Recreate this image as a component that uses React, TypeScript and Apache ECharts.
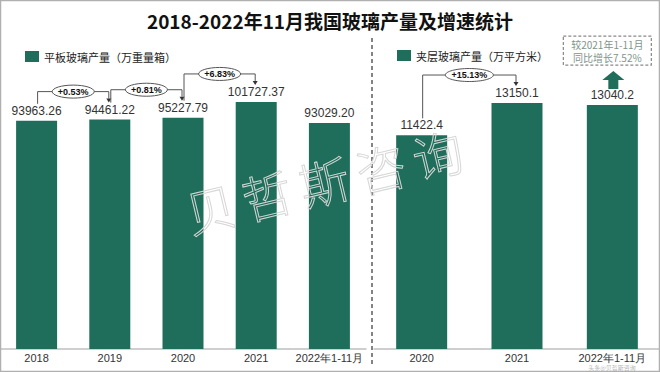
import React, { useEffect, useRef } from "react";
import * as echarts from "echarts";

const titleText = "2018-2022年11月我国玻璃产量及增速统计";
const flatName = "平板玻璃产量（万重量箱）";
const flatCategories = ["2018", "2019", "2020", "2021", "2022年1-11月"];
const flatValues = [93963.26, 94461.22, 95227.79, 101727.37, 93029.2];
const flatGrowth = ["+0.53%", "+0.81%", "+6.83%"];
const lamName = "夹层玻璃产量（万平方米）";
const lamCategories = ["2020", "2021", "2022年1-11月"];
const lamValues = [11422.4, 13150.1, 13040.2];
const lamGrowth = ["+15.13%"];
const lamNote = ["较2021年1-11月", "同比增长7.52%"];
const watermarkChars = ["贝", "哲", "斯", "咨", "询"];
const footMark = "头条@贝哲斯咨询";

const GREEN = "#1f6e5b";

export default function App() {
  const ref = useRef<HTMLDivElement>(null);
  useEffect(() => {
    document.body.style.margin = "0";
    const chart = echarts.init(ref.current!, undefined, { renderer: "svg" });
    const axisCommon = {
      type: "category" as const,
      axisLine: { lineStyle: { color: "#bfbfbf", width: 1.5 } },
      axisTick: { show: false },
      axisLabel: { color: "#333", fontSize: 11, fontFamily: "Liberation Sans", margin: 3, interval: 0, lineHeight: 12 },
    };
    chart.setOption({
      animation: false,
      backgroundColor: "#fff",
      title: {
        text: titleText,
        left: "center",
        top: 6,
        textStyle: { fontSize: 19, fontWeight: "bold", color: "#111", fontFamily: "Noto Sans CJK SC" },
      },
      legend: [
        {
          data: [flatName],
          left: 20,
          top: 46,
          itemWidth: 14,
          itemHeight: 11,
          itemGap: 4,
          selectedMode: false,
          icon: "rect",
          textStyle: { fontSize: 11, color: "#222", fontFamily: "Noto Sans CJK SC" },
        },
        {
          data: [lamName],
          left: 392,
          top: 45,
          itemWidth: 14,
          itemHeight: 11,
          selectedMode: false,
          icon: "rect",
          textStyle: { fontSize: 11, color: "#222", fontFamily: "Noto Sans CJK SC" },
        },
      ],
      grid: [
        { left: 0, width: 366, top: 60, bottom: 23 },
        { left: 374, width: 286, top: 60, bottom: 23 },
      ],
      xAxis: [
        { ...axisCommon, gridIndex: 0, data: flatCategories },
        { ...axisCommon, gridIndex: 1, data: lamCategories },
      ],
      yAxis: [
        { type: "value", gridIndex: 0, min: 0, max: 119000, show: false, splitLine: { show: false } },
        { type: "value", gridIndex: 1, min: 0, max: 15450, show: false, splitLine: { show: false } },
      ],
      series: [
        {
          name: flatName,
          type: "bar",
          xAxisIndex: 0,
          yAxisIndex: 0,
          data: flatValues,
          barWidth: 41,
          itemStyle: { color: GREEN },
          label: {
            show: true,
            position: "top",
            distance: 4,
            color: "#333",
            fontSize: 12,
            fontFamily: "Liberation Sans",
            formatter: (p: any) => Number(p.value).toFixed(2),
          },
        },
        {
          name: lamName,
          type: "bar",
          xAxisIndex: 1,
          yAxisIndex: 1,
          data: lamValues,
          barWidth: 51,
          itemStyle: { color: GREEN },
          label: {
            show: true,
            position: "top",
            distance: 4,
            color: "#333",
            fontSize: 12,
            fontFamily: "Liberation Sans",
            formatter: (p: any) => Number(p.value).toFixed(1),
          },
        },
      ],
    });

    const px = (s: number, i: number, v: number) =>
      chart.convertToPixel({ seriesIndex: s }, [i, v]) as number[];

    const graphics: any[] = [];
    const bracket = (s: number, values: number[], i: number, text: string, rx: number) => {
      const a = px(s, i, values[i]);
      const b = px(s, i + 1, values[i + 1]);
      const x1 = a[0] + 1;
      const x2 = b[0] - 1;
      const y1 = a[1] - 17;
      const y2 = b[1] - 17;
      const h = Math.min(a[1], b[1]) - 28;
      graphics.push({
        type: "polyline",
        z: 10,
        shape: { points: [[x1, y1], [x1, h], [x2, h], [x2, y2 - 4]] },
        style: { stroke: "#555", lineWidth: 1, fill: "none" },
      });
      graphics.push({
        type: "polygon",
        z: 10,
        shape: { points: [[x2 - 2.5, y2 - 4], [x2 + 2.5, y2 - 4], [x2, y2]] },
        style: { fill: "#333" },
      });
      const cx = (x1 + x2) / 2;
      graphics.push({
        type: "ellipse",
        z: 11,
        shape: { cx, cy: h, rx, ry: 6.5 },
        style: { fill: "#fff", stroke: "#555", lineWidth: 1 },
      });
      graphics.push({
        type: "text",
        z: 12,
        x: cx,
        y: h,
        style: {
          text,
          align: "center",
          verticalAlign: "middle",
          font: "bold 9px Liberation Sans",
          fill: "#111",
        },
      });
    };
    flatGrowth.forEach((t, i) => bracket(0, flatValues, i, t, 21));
    lamGrowth.forEach((t, i) => bracket(1, lamValues, i, t, 24));

    // up arrow and note box above the last laminated bar
    const last = lamValues.length - 1;
    const p = px(1, last, lamValues[last]);
    const c = p[0] + 1;
    const yb = p[1] - 16;
    const yt = p[1] - 34;
    graphics.push({
      type: "polygon",
      z: 10,
      shape: {
        points: [
          [c - 5, yb],
          [c + 5, yb],
          [c + 5, yt + 9],
          [c + 11, yt + 9],
          [c, yt],
          [c - 11, yt + 9],
          [c - 5, yt + 9],
        ],
      },
      style: { fill: GREEN },
    });
    const bx = c - 50;
    const by = p[1] - 69;
    graphics.push({
      type: "rect",
      z: 10,
      shape: { x: bx, y: by, width: 88, height: 29 },
      style: { fill: "#fff", stroke: "#888", lineWidth: 1.2, lineDash: [3, 2] },
    });
    lamNote.forEach((t, i) => {
      graphics.push({
        type: "text",
        z: 11,
        x: bx + 44,
        y: by + 8 + i * 13.5,
        style: {
          text: t,
          align: "center",
          verticalAlign: "middle",
          font: "10px Noto Sans CJK SC",
          lineHeight: 11,
          fill: "#7f948b",
        },
      });
    });

    // separator
    graphics.push({
      type: "line",
      z: 5,
      shape: { x1: 372, y1: 38, x2: 372, y2: 366 },
      style: { stroke: "#333", lineWidth: 1.2, lineDash: [4, 3] },
    });

    // watermark
    const ang = (13.4 * Math.PI) / 180;
    watermarkChars.forEach((ch, i) => {
      graphics.push({
        type: "text",
        z: 20,
        x: 210 + i * 56.8,
        y: 207 - i * 13.5,
        rotation: ang,
        style: {
          text: ch,
          align: "center",
          verticalAlign: "middle",
          font: "300 50px Noto Sans CJK SC",
          fill: "rgba(0,0,0,0)",
          stroke: "#d6d6d6",
          lineWidth: 1,
        },
      });
    });
    graphics.push({
      type: "text",
      z: 20,
      x: 612,
      y: 367.5,
      style: {
        text: footMark,
        align: "center",
        verticalAlign: "middle",
        font: "6px Noto Sans CJK SC",
        lineHeight: 6,
        fill: "rgba(120,120,120,0.55)",
      },
    });

    // outer frame
    graphics.push({
      type: "rect",
      z: 30,
      shape: { x: 0.5, y: 0.5, width: 659, height: 371 },
      style: { fill: "none", stroke: "#b0b0b0", lineWidth: 1.5 },
    });

    chart.setOption({ graphic: graphics });
    return () => chart.dispose();
  }, []);
  return <div ref={ref} style={{ width: 660, height: 372 }} />;
}
